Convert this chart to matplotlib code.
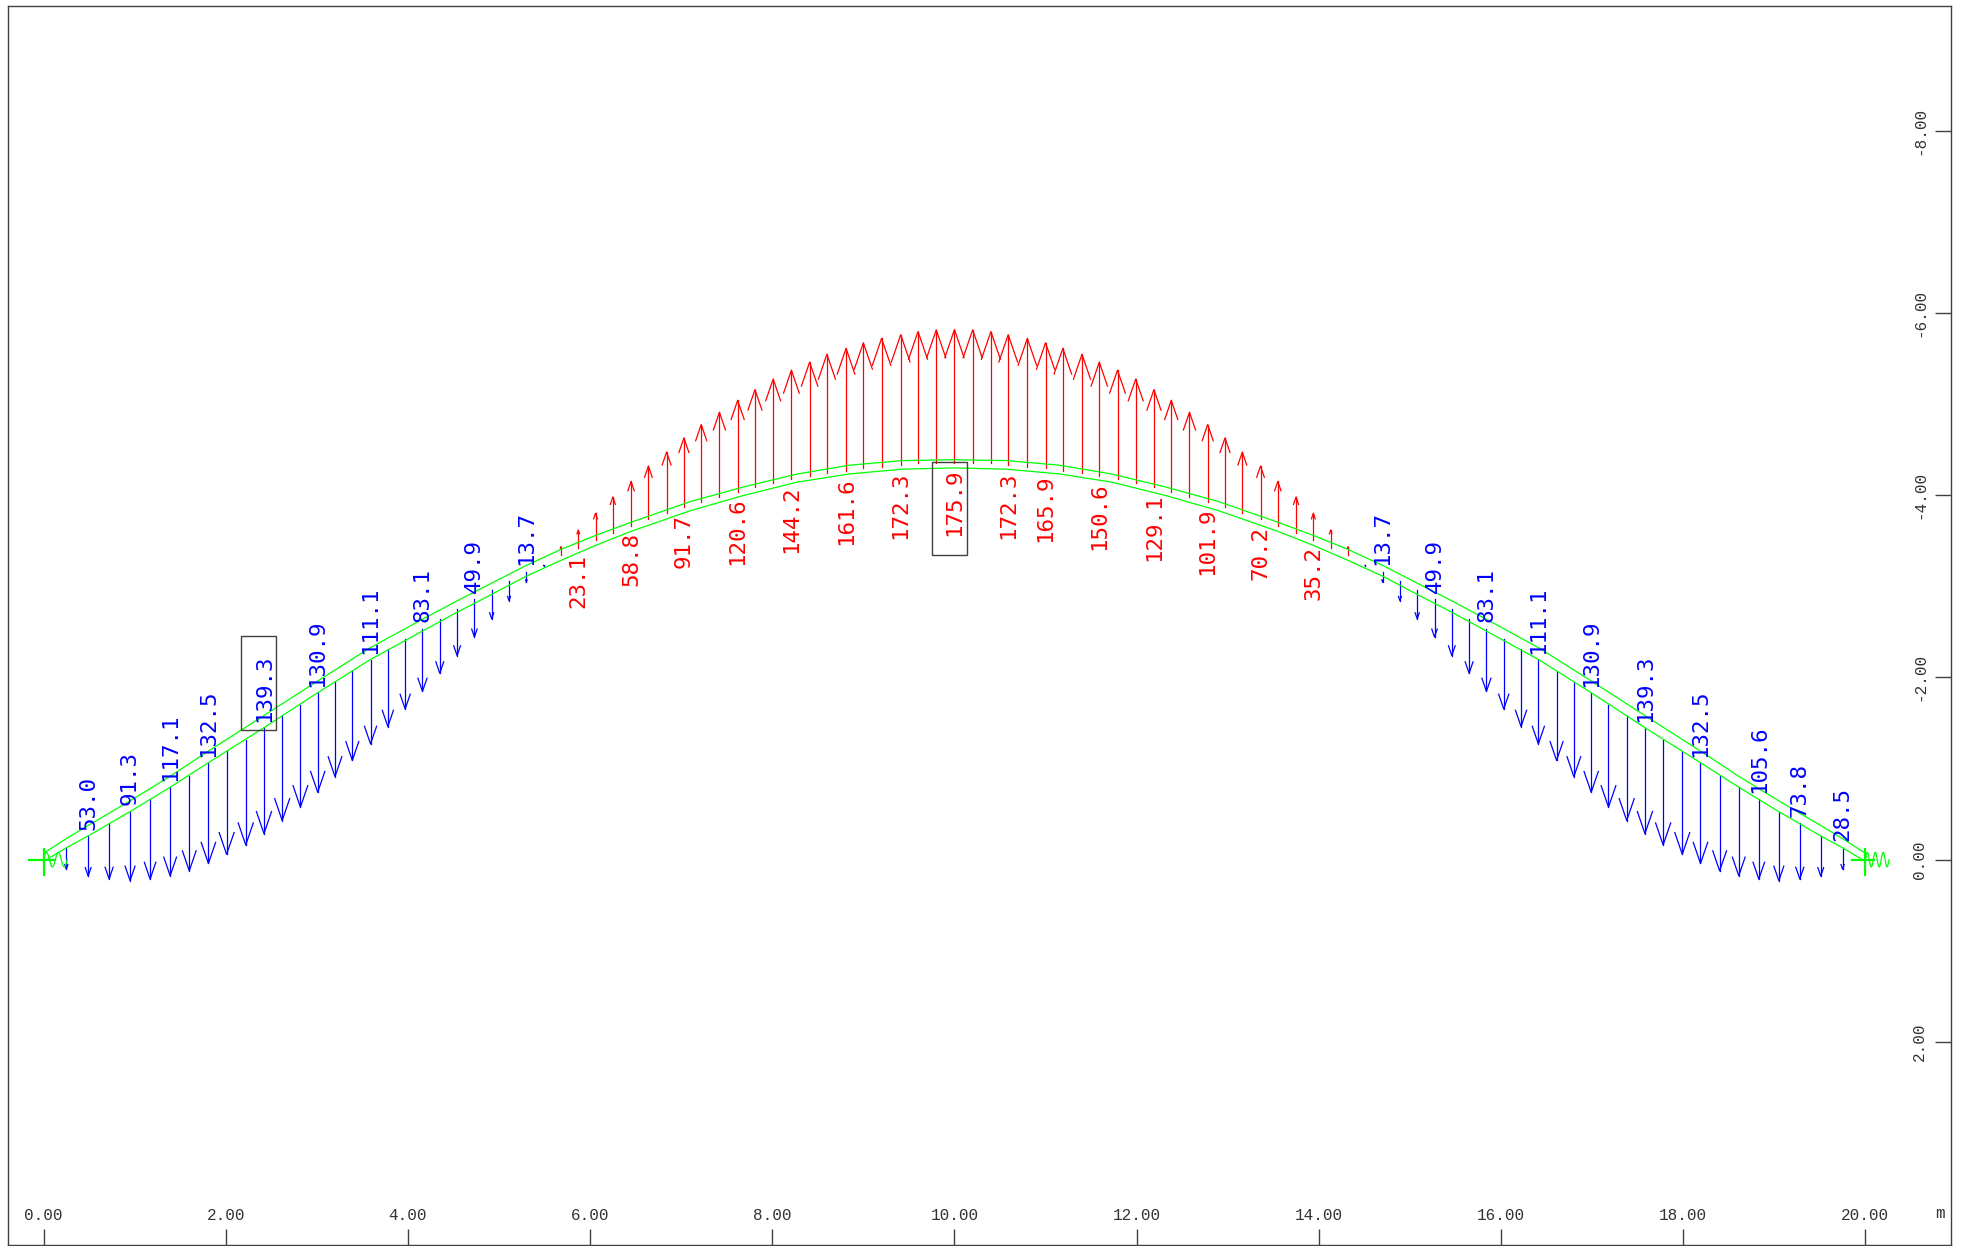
import numpy as np
import matplotlib
matplotlib.use("Agg")
import matplotlib.pyplot as plt
from matplotlib.patches import Rectangle

# Arrow stations along the arch (m)
stations = [
    0.25, 0.49, 0.72, 0.95, 1.17, 1.39, 1.60, 1.81, 2.01, 2.22,
    2.42, 2.62, 2.82, 3.01, 3.20, 3.39, 3.59, 3.78, 3.97, 4.16,
    4.35, 4.54, 4.73, 4.92, 5.11, 5.30, 5.49, 5.68, 5.87, 6.06,
    6.25, 6.45, 6.64, 6.84, 7.03, 7.22, 7.42, 7.62, 7.81, 8.01,
    8.21, 8.41, 8.60, 8.81, 9.00, 9.20, 9.41, 9.60, 9.80, 10.00,
    10.20, 10.40, 10.59, 10.80, 11.00, 11.19, 11.40, 11.59, 11.79, 11.99,
    12.19, 12.38, 12.58, 12.78, 12.97, 13.16, 13.36, 13.55, 13.75, 13.94,
    14.13, 14.32, 14.51, 14.70, 14.89, 15.08, 15.27, 15.46, 15.65, 15.84,
    16.03, 16.22, 16.41, 16.61, 16.80, 16.99, 17.18, 17.38, 17.58, 17.78,
    17.99, 18.19, 18.40, 18.61, 18.83, 19.05, 19.28, 19.51, 19.75,
]

# Force at each station: positive drawn down in blue, negative up in red
forces = [
    28.5, 53.0, 73.8, 91.3, 105.6, 117.1, 125.9, 132.5, 136.7, 138.9,
    139.3, 137.9, 135.1, 130.9, 125.3, 118.8, 111.1, 102.3, 93.1, 83.1,
    72.2, 61.3, 49.9, 38.2, 26.1, 13.7, 1.0, -11.5, -23.1, -35.2,
    -47.1, -58.8, -70.2, -81.1, -91.7, -101.9, -111.5, -120.6, -129.1, -137.0,
    -144.2, -150.6, -156.5, -161.6, -165.9, -169.5, -172.3, -174.3, -175.5, -175.9,
    -175.5, -174.3, -172.3, -169.5, -165.9, -161.6, -156.5, -150.6, -144.2, -137.0,
    -129.1, -120.6, -111.5, -101.9, -91.7, -81.1, -70.2, -58.8, -47.1, -35.2,
    -23.1, -11.5, 1.0, 13.7, 26.1, 38.2, 49.9, 61.3, 72.2, 83.1,
    93.1, 102.3, 111.1, 118.8, 125.3, 130.9, 135.1, 137.9, 139.3, 138.9,
    136.7, 132.5, 125.9, 117.1, 105.6, 91.3, 73.8, 53.0, 28.5,
]

# Where each arrow starts, on the arch
tails = [
    -0.132, -0.260, -0.400, -0.527, -0.663, -0.795, -0.922, -1.058, -1.193, -1.314,
    -1.442, -1.574, -1.698, -1.826, -1.951, -2.075, -2.192, -2.310, -2.426, -2.536,
    -2.645, -2.749, -2.858, -2.960, -3.060, -3.160, -3.235, -3.340, -3.425, -3.510,
    -3.590, -3.663, -3.737, -3.800, -3.868, -3.930, -3.985, -4.040, -4.088, -4.138,
    -4.175, -4.210, -4.248, -4.270, -4.296, -4.314, -4.332, -4.350, -4.358, -4.358,
    -4.358, -4.350, -4.332, -4.314, -4.296, -4.270, -4.248, -4.210, -4.175, -4.138,
    -4.088, -4.040, -3.985, -3.930, -3.868, -3.800, -3.737, -3.663, -3.590, -3.510,
    -3.425, -3.340, -3.235, -3.160, -3.060, -2.960, -2.858, -2.749, -2.645, -2.536,
    -2.426, -2.310, -2.192, -2.075, -1.951, -1.826, -1.698, -1.574, -1.442, -1.314,
    -1.193, -1.058, -0.922, -0.795, -0.663, -0.527, -0.400, -0.260, -0.132,
]

# Stations that carry a printed value
labelled = [
    0.49, 0.95, 1.39, 1.81, 2.42, 3.01, 3.59, 4.16, 4.73, 5.30,
    5.87, 6.45, 7.03, 7.62, 8.21, 8.81, 9.41, 10.00, 10.59, 11.00,
    11.59, 12.19, 12.78, 13.36, 13.94, 14.70, 15.27, 15.84, 16.41, 16.99,
    17.58, 18.19, 18.83, 19.28, 19.75,
]

# The two green chords of the arch
chord_x = [
    0.00, 0.25, 0.49, 0.95, 1.39, 1.80, 2.41, 3.00, 3.58, 4.15, 4.52, 4.91, 5.29,
    5.68, 6.05, 6.44, 7.10, 7.68, 8.27, 8.85, 9.43, 10.00,
    10.57, 11.15, 11.73, 12.32, 12.90, 13.56, 13.95, 14.32, 14.71, 15.09, 15.48,
    15.85, 16.42, 17.00, 17.59, 18.20, 18.61, 19.05, 19.51, 19.75, 20.00,
]
chord_lower = [
    0.02, -0.13, -0.26, -0.527, -0.795, -1.058, -1.442, -1.826, -2.192, -2.503, -2.705, -2.906, -3.107,
    -3.285, -3.445, -3.60, -3.83, -3.996, -4.143, -4.234, -4.286, -4.30,
    -4.286, -4.234, -4.143, -3.996, -3.83, -3.60, -3.445, -3.285, -3.107, -2.906, -2.705,
    -2.503, -2.192, -1.826, -1.442, -1.058, -0.795, -0.527, -0.26, -0.13, 0.02,
]
chord_upper = [
    -0.07, -0.23, -0.375, -0.645, -0.915, -1.185, -1.575, -1.955, -2.322, -2.633, -2.83, -3.03, -3.225,
    -3.405, -3.555, -3.70, -3.93, -4.09, -4.232, -4.33, -4.38, -4.39,
    -4.38, -4.33, -4.232, -4.09, -3.93, -3.70, -3.555, -3.405, -3.225, -3.03, -2.83,
    -2.633, -2.322, -1.955, -1.575, -1.185, -0.915, -0.645, -0.375, -0.23, -0.07,
]

x_ticks = [0, 2, 4, 6, 8, 10, 12, 14, 16, 18, 20]
y_ticks = [-8, -6, -4, -2, 0, 2]

# Scale and look
FORCE_SCALE = 0.0083   # metres of arrow per unit of force
HEAD_LENGTH = 0.21     # head size as a share of the arrow
HEAD_HALF_WIDTH = 0.072
LABEL_GAP = 0.07
LINE_WIDTH = 0.9
FRAME_COLOR = "#404040"
MONO = "Liberation Mono"

fig = plt.figure(figsize=(19.61, 12.46), dpi=100)
ax = fig.add_axes([8 / 1961, 1 / 1246, (1951 - 8) / 1961, (1245 - 6) / 1246])
ax.set_xlim(-0.39, 20.94)
ax.set_ylim(4.23, -9.37)

for spine in ax.spines.values():
    spine.set_linewidth(1.0)
    spine.set_color(FRAME_COLOR)

# Axis ticks sit inside the frame, on the bottom and right
ax.yaxis.tick_right()
ax.set_xticks(x_ticks)
ax.set_xticklabels([f"{v:.2f}" for v in x_ticks], family=MONO, fontsize=11.5, color="#333333")
ax.set_yticks(y_ticks)
ax.set_yticklabels([f"{v:.2f}" for v in y_ticks], family=MONO, fontsize=11.5, color="#333333",
                   rotation=90, va="center")
ax.tick_params(axis="x", direction="in", length=11.5, width=1.0, color=FRAME_COLOR, pad=-27)
ax.tick_params(axis="y", direction="in", length=11.5, width=1.0, color=FRAME_COLOR, pad=-28)
ax.text(20.82, 3.88, "m", family=MONO, fontsize=11.5, color="#333333", ha="center", va="center")

# Arch chords
ax.plot(chord_x, chord_lower, color="#00ff00", lw=LINE_WIDTH, zorder=3)
ax.plot(chord_x, chord_upper, color="#00ff00", lw=LINE_WIDTH, zorder=3)


def draw_support(x, x0, x1, turns):
    """Green support symbol: cross plus a small spring to the right."""
    ax.plot([x0, x1], [0, 0], color="#00ff00", lw=1.6, zorder=4)
    ax.plot([x, x], [-0.12, 0.17], color="#00ff00", lw=1.6, zorder=4)
    t = np.linspace(0, 1, 80)
    ax.plot(x + 0.26 * t, 0.08 * np.sin(2 * np.pi * turns * t) * -1, color="#00ff00",
            lw=LINE_WIDTH, zorder=4)


draw_support(0.0, -0.16, 0.13, 2)
draw_support(20.0, 19.85, 20.10, 3)

# Force arrows
for x, force, tail in zip(stations, forces, tails):
    color = "#0000ff" if force > 0 else "#ff0000"
    direction = 1 if force > 0 else -1
    size = abs(force) * FORCE_SCALE
    tip = tail + force * FORCE_SCALE
    head_y = tip - direction * HEAD_LENGTH * size
    head_w = HEAD_HALF_WIDTH * size
    ax.plot([x, x], [tail, tip], color=color, lw=LINE_WIDTH, zorder=2)
    ax.plot([x - head_w, x, x + head_w], [head_y, tip, head_y], color=color, lw=LINE_WIDTH, zorder=2)
    if x in labelled:
        if force > 0:
            ax.text(x, tail - LABEL_GAP, f"{force:.1f}", color=color, family="DejaVu Sans Mono",
                    fontsize=16.2, rotation=90, ha="center", va="bottom", zorder=5)
        else:
            ax.text(x, tail + LABEL_GAP, f"{-force:.1f}", color=color, family="DejaVu Sans Mono",
                    fontsize=16.2, rotation=90, ha="center", va="top", zorder=5)

# Boxes round the extreme values
ax.add_patch(Rectangle((2.168, -2.456), 0.385, 1.032, fill=False, edgecolor=FRAME_COLOR, lw=1.0, zorder=6))
ax.add_patch(Rectangle((9.750, -4.370), 0.390, 1.025, fill=False, edgecolor=FRAME_COLOR, lw=1.0, zorder=6))

fig.savefig("out.png", dpi=100)
